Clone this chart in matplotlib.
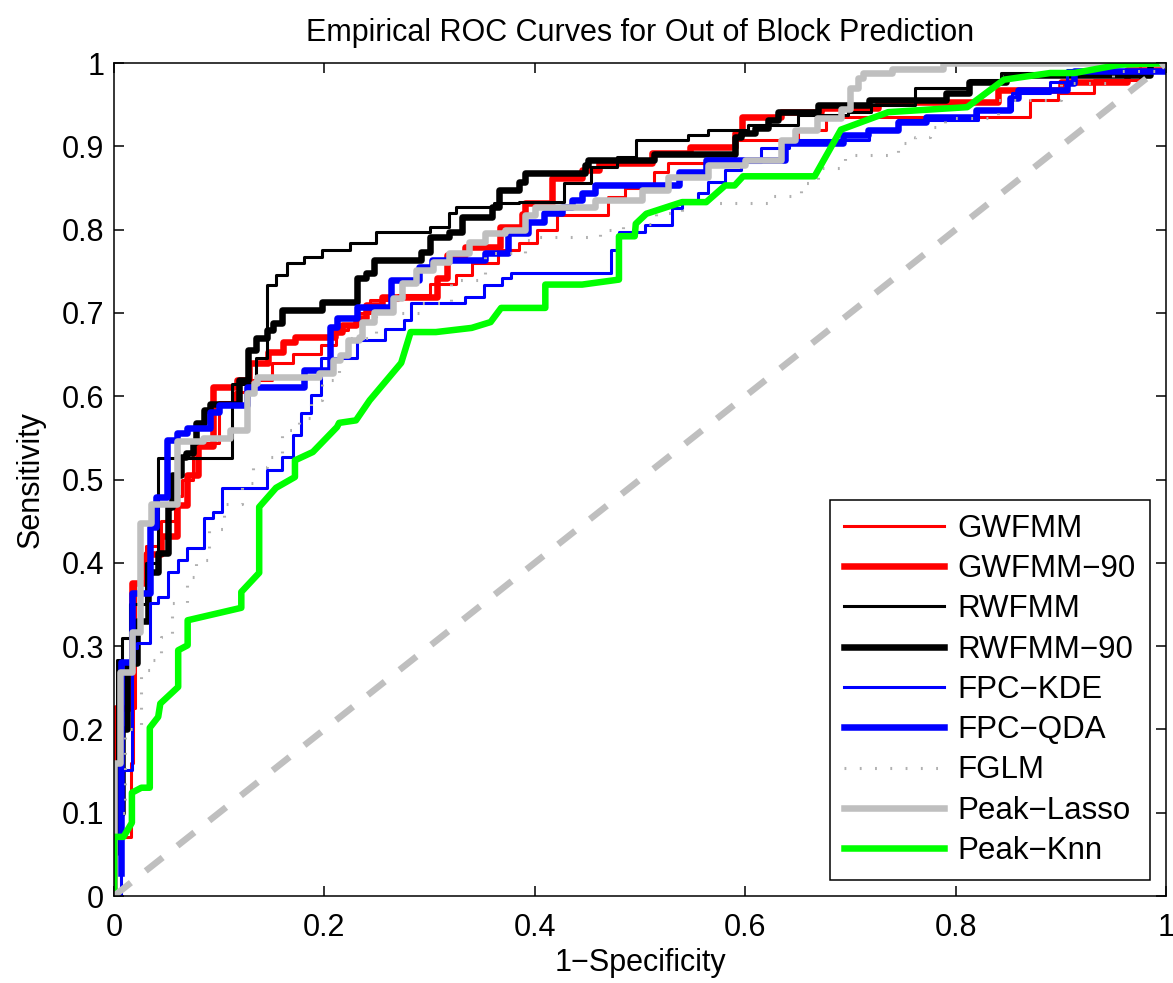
import matplotlib.pyplot as plt

plt.rcParams['font.family'] = ['Liberation Sans', 'DejaVu Sans']

# ROC curves (fpr = 1-specificity, tpr = sensitivity)
gwfmm_fpr = [0, 0, 0.016, 0.018, 0.020, 0.030, 0.045, 0.058, 0.065, 0.075,
             0.100, 0.115, 0.130, 0.150, 0.170, 0.197, 0.211, 0.222, 0.230, 0.243,
             0.270, 0.300, 0.325, 0.340, 0.365, 0.385, 0.402, 0.421, 0.470, 0.486,
             0.513, 0.527, 0.590, 0.650, 0.677, 0.871, 0.897, 0.932, 0.975, 1.0]
gwfmm_tpr = [0, 0.071, 0.160, 0.226, 0.376, 0.420, 0.450, 0.480, 0.500, 0.544,
             0.593, 0.605, 0.620, 0.640, 0.651, 0.661, 0.680, 0.687, 0.700, 0.716,
             0.722, 0.735, 0.745, 0.760, 0.775, 0.784, 0.800, 0.817, 0.839, 0.850,
             0.869, 0.880, 0.908, 0.920, 0.935, 0.956, 0.964, 0.980, 1.0, 1.0]

gwfmm90_fpr = [0, 0, 0.001, 0.015, 0.017, 0.030, 0.045, 0.060, 0.069, 0.080,
               0.094, 0.117, 0.128, 0.146, 0.161, 0.172, 0.210, 0.217, 0.230, 0.240,
               0.255, 0.307, 0.317, 0.334, 0.367, 0.388, 0.391, 0.416, 0.445, 0.461,
               0.511, 0.548, 0.590, 0.597, 0.634, 0.672, 0.726, 0.840, 0.900, 0.963, 1.0]
gwfmm90_tpr = [0, 0.163, 0.226, 0.263, 0.376, 0.410, 0.432, 0.469, 0.505, 0.540,
               0.611, 0.619, 0.640, 0.653, 0.665, 0.671, 0.677, 0.686, 0.694, 0.710,
               0.719, 0.742, 0.770, 0.779, 0.803, 0.819, 0.832, 0.862, 0.872, 0.880,
               0.892, 0.899, 0.916, 0.935, 0.941, 0.946, 0.953, 0.968, 0.977, 0.992, 1.0]

rwfmm_fpr = [0, 0, 0.003, 0.008, 0.015, 0.030, 0.042, 0.112, 0.135, 0.145,
             0.154, 0.164, 0.181, 0.198, 0.224, 0.249, 0.300, 0.318, 0.325, 0.361,
             0.385, 0.428, 0.453, 0.478, 0.496, 0.546, 0.565, 0.603, 0.650, 0.698,
             0.720, 0.761, 0.814, 0.843, 0.985, 1.0]
rwfmm_tpr = [0, 0.05, 0.283, 0.310, 0.350, 0.400, 0.526, 0.615, 0.646, 0.733,
             0.745, 0.760, 0.767, 0.775, 0.784, 0.797, 0.803, 0.820, 0.827, 0.832,
             0.833, 0.856, 0.875, 0.887, 0.908, 0.914, 0.920, 0.926, 0.938, 0.941,
             0.950, 0.970, 0.980, 0.988, 1.0, 1.0]

rwfmm90_fpr = [0, 0, 0.008, 0.012, 0.022, 0.032, 0.042, 0.051, 0.055, 0.064,
               0.068, 0.075, 0.078, 0.086, 0.091, 0.119, 0.127, 0.135, 0.145, 0.151,
               0.160, 0.198, 0.231, 0.240, 0.247, 0.292, 0.300, 0.318, 0.331, 0.359,
               0.366, 0.385, 0.391, 0.448, 0.451, 0.513, 0.590, 0.596, 0.609, 0.622,
               0.631, 0.669, 0.718, 0.791, 0.813, 0.848, 0.985, 1.0]
rwfmm90_tpr = [0, 0.10, 0.20, 0.28, 0.33, 0.389, 0.412, 0.467, 0.505, 0.527,
               0.532, 0.545, 0.568, 0.583, 0.591, 0.619, 0.655, 0.670, 0.679, 0.688,
               0.703, 0.713, 0.742, 0.748, 0.763, 0.773, 0.791, 0.797, 0.815, 0.827,
               0.848, 0.857, 0.868, 0.877, 0.884, 0.891, 0.911, 0.916, 0.922, 0.932,
               0.941, 0.950, 0.956, 0.964, 0.977, 0.986, 1.0, 1.0]

kde_fpr = [0, 0.007, 0.017, 0.022, 0.034, 0.042, 0.051, 0.061, 0.069, 0.086,
           0.094, 0.103, 0.145, 0.160, 0.170, 0.178, 0.187, 0.197, 0.231, 0.258,
           0.276, 0.282, 0.334, 0.352, 0.369, 0.377, 0.472, 0.480, 0.505, 0.530,
           0.540, 0.555, 0.565, 0.581, 0.596, 0.615, 0.642, 0.718, 0.745, 0.821,
           0.854, 0.890, 0.906, 1.0]
kde_tpr = [0, 0.151, 0.298, 0.304, 0.352, 0.359, 0.389, 0.403, 0.418, 0.454,
           0.461, 0.490, 0.511, 0.527, 0.553, 0.580, 0.601, 0.646, 0.667, 0.681,
           0.691, 0.712, 0.719, 0.733, 0.742, 0.748, 0.775, 0.797, 0.805, 0.826,
           0.836, 0.844, 0.857, 0.872, 0.881, 0.898, 0.908, 0.920, 0.932, 0.944,
           0.964, 0.977, 0.992, 1.0]

qda_fpr = [0.007, 0.007, 0.017, 0.034, 0.040, 0.050, 0.060, 0.069, 0.091, 0.100,
           0.126, 0.181, 0.205, 0.212, 0.231, 0.263, 0.290, 0.302, 0.353, 0.375,
           0.394, 0.409, 0.426, 0.435, 0.445, 0.457, 0.537, 0.563, 0.638, 0.693,
           0.717, 0.745, 0.772, 0.819, 0.852, 0.859, 0.906, 0.913, 1.0]
qda_tpr = [0.028, 0.281, 0.364, 0.443, 0.479, 0.547, 0.556, 0.562, 0.581, 0.589,
           0.611, 0.631, 0.683, 0.694, 0.707, 0.739, 0.755, 0.763, 0.772, 0.796,
           0.809, 0.820, 0.827, 0.836, 0.844, 0.853, 0.869, 0.884, 0.904, 0.914,
           0.920, 0.929, 0.935, 0.944, 0.958, 0.968, 0.976, 0.990, 1.0]

fglm_fpr = [0, 0, 0.010, 0.026, 0.037, 0.045, 0.055, 0.069, 0.078, 0.090,
            0.105, 0.122, 0.132, 0.145, 0.160, 0.176, 0.187, 0.198, 0.214, 0.222,
            0.249, 0.293, 0.320, 0.353, 0.391, 0.401, 0.462, 0.484, 0.515, 0.540,
            0.622, 0.653, 0.669, 0.695, 0.745, 0.761, 0.776, 0.790, 0.840, 0.900,
            0.950, 1.0]
fglm_tpr = [0, 0.10, 0.20, 0.271, 0.283, 0.311, 0.352, 0.383, 0.403, 0.440,
            0.470, 0.496, 0.515, 0.527, 0.559, 0.574, 0.595, 0.619, 0.655, 0.670,
            0.700, 0.712, 0.740, 0.772, 0.788, 0.791, 0.800, 0.807, 0.820, 0.832,
            0.840, 0.856, 0.874, 0.890, 0.904, 0.911, 0.923, 0.934, 0.956, 0.976,
            0.990, 1.0]

lasso_fpr = [0, 0, 0.006, 0.017, 0.025, 0.035, 0.060, 0.085, 0.110, 0.126,
             0.133, 0.136, 0.195, 0.208, 0.215, 0.222, 0.233, 0.236, 0.247, 0.265,
             0.274, 0.287, 0.303, 0.318, 0.337, 0.353, 0.372, 0.391, 0.400, 0.457,
             0.502, 0.527, 0.565, 0.600, 0.634, 0.647, 0.668, 0.691, 0.700, 0.707,
             0.712, 0.740, 0.788, 1.0]
lasso_tpr = [0, 0.160, 0.269, 0.317, 0.448, 0.470, 0.546, 0.550, 0.560, 0.604,
             0.616, 0.623, 0.628, 0.643, 0.650, 0.667, 0.671, 0.689, 0.701, 0.718,
             0.736, 0.751, 0.761, 0.772, 0.785, 0.796, 0.800, 0.818, 0.827, 0.836,
             0.848, 0.863, 0.878, 0.884, 0.908, 0.920, 0.934, 0.945, 0.970, 0.982,
             0.988, 0.993, 1.0, 1.0]

knn_fpr = [0, 0, 0.009, 0.017, 0.017, 0.026, 0.034, 0.034, 0.042, 0.044,
           0.061, 0.061, 0.070, 0.070, 0.121, 0.121, 0.138, 0.138, 0.154, 0.172,
           0.172, 0.189, 0.212, 0.214, 0.230, 0.243, 0.273, 0.282, 0.306, 0.340,
           0.358, 0.368, 0.410, 0.410, 0.445, 0.480, 0.480, 0.495, 0.496, 0.506,
           0.540, 0.563, 0.581, 0.590, 0.598, 0.666, 0.691, 0.736, 0.811, 0.846,
           0.890, 0.913, 0.956, 1.0]
knn_tpr = [0, 0.071, 0.071, 0.088, 0.124, 0.130, 0.130, 0.202, 0.215, 0.231,
           0.251, 0.295, 0.301, 0.331, 0.346, 0.365, 0.388, 0.467, 0.490, 0.503,
           0.523, 0.533, 0.563, 0.568, 0.571, 0.595, 0.640, 0.677, 0.677, 0.682,
           0.689, 0.706, 0.706, 0.734, 0.734, 0.740, 0.792, 0.792, 0.807, 0.819,
           0.833, 0.833, 0.853, 0.853, 0.864, 0.864, 0.920, 0.941, 0.947, 0.980,
           0.988, 0.988, 0.998, 1.0]

ticks = [0, 0.2, 0.4, 0.6, 0.8, 1]
yticks = [0, 0.1, 0.2, 0.3, 0.4, 0.5, 0.6, 0.7, 0.8, 0.9, 1]

thin = 2.2
thick = 4.7
grey = '#bfbfbf'

fig = plt.figure(figsize=(11.73, 9.83), dpi=100)
ax = fig.add_axes([0.0972, 0.0885, 0.8968, 0.8474])

ax.step(gwfmm_fpr, gwfmm_tpr, where='post', color='red', lw=thin, label='GWFMM')
ax.step(gwfmm90_fpr, gwfmm90_tpr, where='post', color='red', lw=thick, label='GWFMM\u221290')
ax.step(rwfmm_fpr, rwfmm_tpr, where='post', color='black', lw=thin, label='RWFMM')
ax.step(rwfmm90_fpr, rwfmm90_tpr, where='post', color='black', lw=thick, label='RWFMM\u221290')
ax.step(kde_fpr, kde_tpr, where='post', color='blue', lw=thin, label='FPC\u2212KDE')
ax.step(qda_fpr, qda_tpr, where='post', color='blue', lw=thick, label='FPC\u2212QDA')
ax.step(fglm_fpr, fglm_tpr, where='post', color='#b0b0b0', lw=thin,
        linestyle=(0, (0.6, 4.4)), label='FGLM')
ax.step(lasso_fpr, lasso_tpr, where='post', color=grey, lw=thick, label='Peak\u2212Lasso')
ax.plot(knn_fpr, knn_tpr, color='#00ff00', lw=thick, label='Peak\u2212Knn')
ax.plot([0, 1], [0, 1], color=grey, lw=thick, linestyle=(0, (3.3, 2.9)))

ax.set_xlim(0, 1)
ax.set_ylim(0, 1)
ax.set_xticks(ticks)
ax.set_xticklabels(['0', '0.2', '0.4', '0.6', '0.8', '1'])
ax.set_yticks(yticks)
ax.set_yticklabels(['0', '0.1', '0.2', '0.3', '0.4', '0.5', '0.6', '0.7', '0.8', '0.9', '1'])
ax.tick_params(direction='in', length=7, width=1.1, labelsize=22, top=True, right=True)
ax.tick_params(axis='x', pad=12)
ax.tick_params(axis='y', pad=7)
for s in ax.spines.values():
    s.set_linewidth(1.1)

ax.set_title('Empirical ROC Curves for Out of Block Prediction', fontsize=22, pad=16)
ax.set_xlabel('1\u2212Specificity', fontsize=22, labelpad=4)
ax.set_ylabel('Sensitivity', fontsize=22, labelpad=12)

leg = ax.legend(loc='lower right', bbox_to_anchor=(0.985, 0.019), borderaxespad=0,
                fontsize=22.5, frameon=True, fancybox=False, framealpha=1,
                edgecolor='black', handlelength=3.2, handletextpad=0.45,
                labelspacing=0.33, borderpad=0.45)
leg.get_frame().set_linewidth(1.1)

plt.savefig('out.png', dpi=100)
